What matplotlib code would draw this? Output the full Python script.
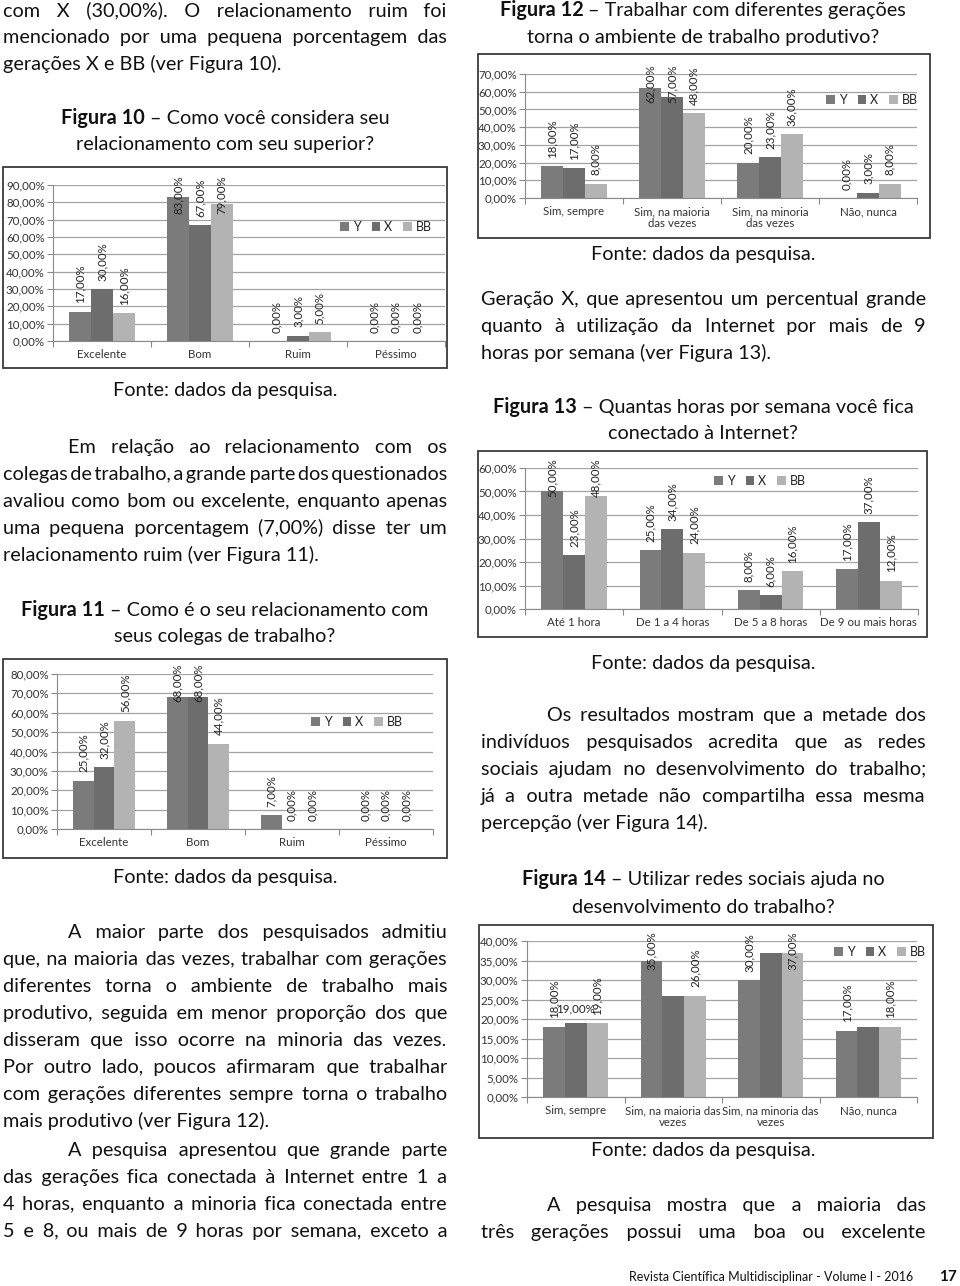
import matplotlib
matplotlib.use("Agg")
import matplotlib.pyplot as plt
from matplotlib.patches import Rectangle
import numpy as np

plt.rcParams['font.family'] = ['Lato', 'DejaVu Sans']

# ---- chart data (percent) ----
cats_rel = ['Excelente', 'Bom', 'Ruim', 'Péssimo']
y_fig10 = [17, 83, 0, 0]
x_fig10 = [30, 67, 3, 0]
bb_fig10 = [16, 79, 5, 0]

y_fig11 = [25, 68, 7, 0]
x_fig11 = [32, 68, 0, 0]
bb_fig11 = [56, 44, 0, 0]

cats_fig12 = ['Sim, sempre', 'Sim, na maioria\ndas vezes', 'Sim, na minoria\ndas vezes', 'Não, nunca']
y_fig12 = [18, 62, 20, 0]
x_fig12 = [17, 57, 23, 3]
bb_fig12 = [8, 48, 36, 8]

cats_fig13 = ['Até 1 hora', 'De 1 a 4 horas', 'De 5 a 8 horas', 'De 9 ou mais horas']
y_fig13 = [50, 25, 8, 17]
x_fig13 = [23, 34, 6, 37]
bb_fig13 = [48, 24, 16, 12]

cats_fig14 = ['Sim, sempre', 'Sim, na maioria das\nvezes', 'Sim, na minoria das\nvezes', 'Não, nunca']
y_fig14 = [18, 35, 30, 17]
x_fig14 = [19, 26, 37, 18]
bb_fig14 = [19, 26, 37, 18]
x_fig14_labelrot = [0, None, None, None]   # only first X label shown, horizontal

series_names = ['Y', 'X', 'BB']
series_colors = ['#7b7b7b', '#6d6d6d', '#b3b3b3']

W, H = 960, 1286
fig = plt.figure(figsize=(W / 100, H / 100), dpi=100)
renderer = fig.canvas.get_renderer()

BODY = 14.3
TXT = '#111111'
BASE = 6   # px from line centre down to baseline
SMALL = 8.3
HAIR = '\u200a'


def fx(px):
    return px / W


def fy(py):
    return 1 - py / H


def text_width(s, size, weight='normal'):
    t = fig.text(0, 0, s, fontsize=size, fontweight=weight)
    w = t.get_window_extent(renderer).width
    t.remove()
    return w


def put(x, y, s, size=BODY, **kw):
    fig.text(fx(x), fy(y + BASE), s, fontsize=size, va='baseline', color=TXT, **kw)


SP = text_width('a a', BODY) - text_width('aa', BODY)
HS = text_width('a' + HAIR * 4 + 'a', BODY) - text_width('aa', BODY)
HS = HS / 4 if HS > 0.5 else SP / 4


def line(s, x0, x1, y, justify=True, size=BODY):
    if not justify:
        put(x0, y, s, size)
        return
    # justified line built as one string: normal spaces plus hair spaces
    words = s.split()
    widths = [text_width(w, size) for w in words]
    gap = (x1 - x0 - sum(widths)) / (len(words) - 1)
    out = words[0]
    pos, target = widths[0], widths[0]
    for w, wd in zip(words[1:], widths[1:]):
        target += gap
        need = target - pos
        k = int(max(need, 0) // SP)
        j = max(0, int(round((need - k * SP) / HS)))
        if k == 0:
            j = max(j, 1)
        out += ' ' * k + HAIR * j + w
        pos += k * SP + j * HS + wd
        target += wd
    put(x0, y, out, size)


def paragraph(lines, x0, x1, y0, indent=0, last_just=False, dy=27):
    for i, s in enumerate(lines):
        just = (i < len(lines) - 1) or last_just
        line(s, x0 + (indent if i == 0 else 0), x1, y0 + i * dy, just)


def caption(y, xc, bold, rest, size=BODY):
    wb = text_width(bold, size, 'bold')
    wr = text_width(rest, size)
    sp = 0.25 * size * 100 / 72
    x = xc - (wb + sp + wr) / 2
    put(x, y, bold, size, fontweight='bold')
    put(x + wb + sp, y, rest, size)


def centered(y, xc, s, size=BODY):
    put(xc, y, s, size, ha='center')


def pct(v):
    return f'{v:.2f}%'.replace('.', ',')


def chart(box, plot, cats, vals, ymax, step, leg, x_rot=None):
    bx0, by0, bx1, by1 = box
    fig.add_artist(Rectangle((fx(bx0), fy(by1)), (bx1 - bx0) / W, (by1 - by0) / H,
                             transform=fig.transFigure, fill=False, ec='#3a3a3a', lw=1.3))
    px0, py0, px1, py1 = plot
    ax = fig.add_axes([fx(px0), fy(py1), (px1 - px0) / W, (py1 - py0) / H])
    ax.set_facecolor('none')
    n = len(cats)
    idx = np.arange(n)
    bw = 0.222
    for i, (name, v, c) in enumerate(zip(series_names, vals, series_colors)):
        ax.bar(idx + (i - 1) * bw, v, bw, color=c, label=name, zorder=2)
    ax.set_xlim(-0.5, n - 0.5)
    ax.set_ylim(0, ymax)
    ticks = np.arange(0, ymax + step / 2, step)
    ax.set_yticks(ticks)
    ax.set_yticklabels([pct(t) for t in ticks])
    ax.yaxis.grid(True, color='#a3a3a3', lw=0.9, zorder=0)
    ax.set_axisbelow(True)
    for s in ['top', 'right']:
        ax.spines[s].set_visible(False)
    for s in ['left', 'bottom']:
        ax.spines[s].set_color('#8a8a8a')
    ax.set_xticks(np.arange(-0.5, n, 1.0))
    ax.set_xticklabels([])
    ax.set_xticks(idx, minor=True)
    ax.set_xticklabels(cats, minor=True, fontsize=SMALL, color='#333333', linespacing=1.1)
    ax.tick_params(axis='x', which='major', length=4, color='#8a8a8a')
    ax.tick_params(axis='x', which='minor', length=0, pad=6)
    ax.tick_params(axis='y', length=4, color='#8a8a8a', labelsize=SMALL,
                   labelcolor='#333333', pad=2)

    lim = H - (py0 - 10)
    for i, v in enumerate(vals):
        for j, val in enumerate(v):
            rot = 90
            if i == 1 and x_rot is not None:
                rot = x_rot[j]
                if rot is None:
                    continue
            t = ax.annotate(pct(val), xy=(j + (i - 1) * bw, val), xytext=(0, 6),
                            textcoords='offset points', rotation=rot, ha='center',
                            va='bottom', fontsize=SMALL, color='#222222', zorder=3)
            ext = t.get_window_extent(renderer)
            if ext.y1 > lim:
                t.xyann = (0, 6 - (ext.y1 - lim) * 72 / 100)

    ax.legend(loc='center', bbox_to_anchor=(fx(leg[0]), fy(leg[1])),
              bbox_transform=fig.transFigure, ncol=3, frameon=False, fontsize=9,
              handlelength=0.7, handleheight=0.7, handletextpad=0.3,
              columnspacing=0.9, labelcolor='#222222')
    return ax


# ---------------- left column ----------------
LX0, LX1 = 3, 447
LC = 225
paragraph(['com X (30,00%). O relacionamento ruim foi',
           'mencionado por uma pequena porcentagem das',
           'gerações X e BB (ver Figura 10).'], LX0, LX1, 10)

caption(118, LC, 'Figura 10', '– Como você considera seu')
centered(144, LC, 'relacionamento com seu superior?')

chart((3, 167, 447, 368), (53, 185, 445, 341), cats_rel,
      [y_fig10, x_fig10, bb_fig10], 90, 10, (386, 227))

centered(390, LC, 'Fonte: dados da pesquisa.')
paragraph(['Em relação ao relacionamento com os',
           'colegas de trabalho, a grande parte dos questionados',
           'avaliou como bom ou excelente, enquanto apenas',
           'uma pequena porcentagem (7,00%) disse ter um',
           'relacionamento ruim (ver Figura 11).'], LX0, LX1, 447, indent=65)

caption(610, LC, 'Figura 11', '– Como é o seu relacionamento com')
centered(636, LC, 'seus colegas de trabalho?')

chart((3, 659, 447, 858), (57, 674, 433, 829), cats_rel,
      [y_fig11, x_fig11, bb_fig11], 80, 10, (357, 722))

centered(877, LC, 'Fonte: dados da pesquisa.')
paragraph(['A maior parte dos pesquisados admitiu',
           'que, na maioria das vezes, trabalhar com gerações',
           'diferentes torna o ambiente de trabalho mais',
           'produtivo, seguida em menor proporção dos que',
           'disseram que isso ocorre na minoria das vezes.',
           'Por outro lado, poucos afirmaram que trabalhar',
           'com gerações diferentes sempre torna o trabalho',
           'mais produtivo (ver Figura 12).'], LX0, LX1, 932, indent=65)
paragraph(['A pesquisa apresentou que grande parte',
           'das gerações fica conectada à Internet entre 1 a',
           '4 horas, enquanto a minoria fica conectada entre',
           '5 e 8, ou mais de 9 horas por semana, exceto a'], LX0, LX1, 1150,
          indent=65, last_just=True)

# ---------------- right column ----------------
RX0, RX1 = 481, 926
RC = 703
caption(10, RC, 'Figura 12', '– Trabalhar com diferentes gerações')
centered(37, RC, 'torna o ambiente de trabalho produtivo?')

chart((478, 54, 930, 238), (525, 74, 917, 198), cats_fig12,
      [y_fig12, x_fig12, bb_fig12], 70, 10, (872, 100))

centered(254, RC, 'Fonte: dados da pesquisa.')
paragraph(['Geração X, que apresentou um percentual grande',
           'quanto à utilização da Internet por mais de 9',
           'horas por semana (ver Figura 13).'], RX0, RX1, 299)

caption(407, RC, 'Figura 13', '– Quantas horas por semana você fica')
centered(433, RC, 'conectado à Internet?')

chart((478, 451, 927, 637), (525, 468, 918, 609), cats_fig13,
      [y_fig13, x_fig13, bb_fig13], 60, 10, (760, 481))

centered(663, RC, 'Fonte: dados da pesquisa.')
paragraph(['Os resultados mostram que a metade dos',
           'indivíduos pesquisados acredita que as redes',
           'sociais ajudam no desenvolvimento do trabalho;',
           'já a outra metade não compartilha essa mesma',
           'percepção (ver Figura 14).'], RX0, RX1, 715, indent=66)

caption(879, RC, 'Figura 14', '– Utilizar redes sociais ajuda no')
centered(907, RC, 'desenvolvimento do trabalho?')

chart((479, 925, 933, 1138), (527, 941, 917, 1097), cats_fig14,
      [y_fig14, x_fig14, bb_fig14], 40, 5, (880, 952), x_rot=x_fig14_labelrot)

centered(1150, RC, 'Fonte: dados da pesquisa.')
paragraph(['A pesquisa mostra que a maioria das',
           'três gerações possui uma boa ou excelente'], RX0, RX1, 1205,
          indent=66, last_just=True)

fig.text(fx(913), fy(1277), 'Revista Científica Multidisciplinar - Volume I - 2016',
         fontsize=9, ha='right', va='center', color=TXT)
fig.text(fx(948), fy(1277), '17', fontsize=11, fontweight='bold', ha='center',
         va='center', color=TXT)

fig.savefig('out.png', dpi=100, facecolor='white')
